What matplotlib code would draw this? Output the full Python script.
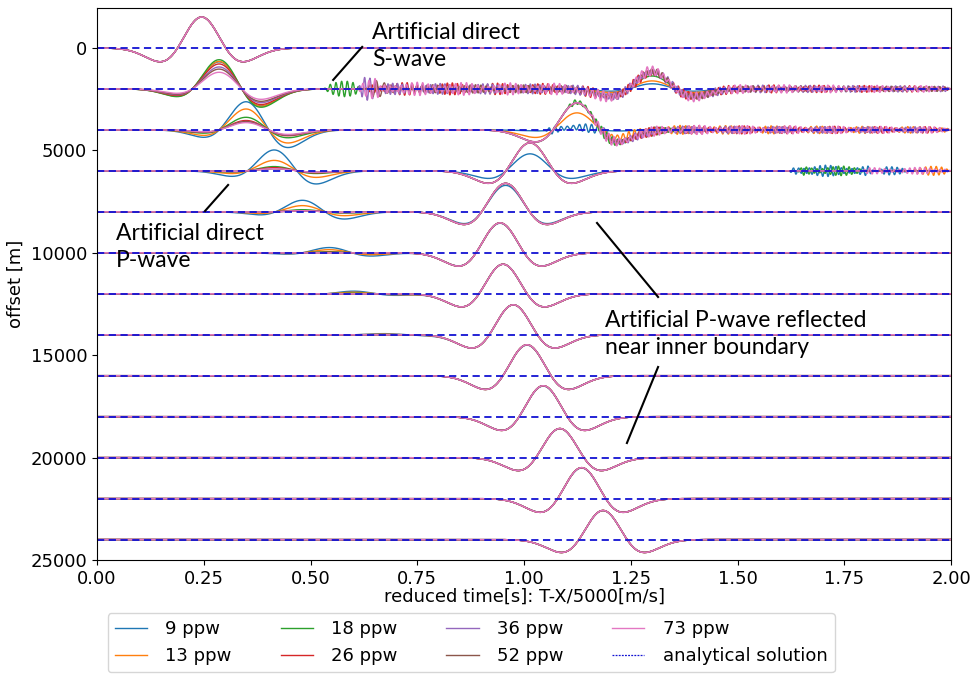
import numpy as np
import matplotlib.pyplot as plt

# receiver offsets [m] and the grid resolutions compared
offsets = [0, 2000, 4000, 6000, 8000, 10000, 12000, 14000, 16000, 18000, 20000, 22000, 24000]
ppw_labels = ["9 ppw", "13 ppw", "18 ppw", "26 ppw", "36 ppw", "52 ppw", "73 ppw"]

# direct P-wave: peak time (reduced) for offsets 0..14000 m
direct_t = [0.245, 0.295, 0.358, 0.424, 0.490, 0.553, 0.610, 0.680]
direct_skew = [0.0, 0.3, 0.3, 0.3, 0.3, 0.3, 0.3, 0.3]
# peak amplitude [m on the offset axis], rows = ppw, cols = offsets 0..14000 m
direct_amp = [
    [1510, 1270, 1320, 980, 540, 245, 120, 50],
    [1510, 1290, 980, 490, 290, 145, 70, 25],
    [1510, 1370, 590, 200, 100, 50, 25, 0],
    [1510, 1170, 440, 150, 50, 25, 0, 0],
    [1510, 1030, 390, 100, 50, 0, 0, 0],
    [1510, 930, 390, 100, 50, 0, 0, 0],
    [1510, 780, 340, 100, 50, 0, 0, 0],
]

# P-wave reflected near the inner boundary, offsets 2000..24000 m
refl_t = [1.300, 1.124, 1.014, 0.957, 0.944, 0.951, 0.975, 1.007, 1.045, 1.084, 1.135, 1.185]
refl_amp = [
    [250, 120, 830, 1290, 1440, 1440, 1460, 1490, 1490, 1410, 1490, 1410],
    [390, 830, 1370, 1390, 1460, 1440, 1460, 1510, 1510, 1420, 1510, 1420],
    [630, 1350, 1370, 1390, 1460, 1440, 1460, 1510, 1510, 1420, 1510, 1420],
    [780, 1320, 1370, 1390, 1460, 1440, 1460, 1510, 1510, 1420, 1510, 1420],
    [830, 1320, 1370, 1390, 1460, 1440, 1460, 1510, 1510, 1420, 1510, 1420],
    [830, 1300, 1370, 1390, 1460, 1440, 1460, 1510, 1510, 1420, 1510, 1420],
    [880, 1320, 1370, 1390, 1460, 1440, 1460, 1510, 1510, 1420, 1510, 1420],
]

# high-frequency numerical noise: (ppw index, offset, t start, t end, amp start, amp end, freq)
noise_bursts = [
    (2, 2000, 0.53, 0.62, 380, 380, 75),
    (5, 2000, 0.63, 0.68, 700, 300, 60),
    (4, 2000, 0.61, 0.67, 650, 400, 80),
    (6, 2000, 0.61, 0.67, 850, 500, 70),
    (3, 2000, 0.63, 2.00, 320, 140, 85),
    (4, 2000, 0.66, 2.00, 280, 140, 90),
    (5, 2000, 0.66, 2.00, 220, 120, 80),
    (6, 2000, 0.66, 2.00, 340, 150, 78),
    (0, 4000, 1.05, 1.20, 220, 200, 70),
    (2, 4000, 1.10, 1.40, 220, 200, 80),
    (1, 4000, 1.18, 2.00, 240, 150, 75),
    (3, 4000, 1.18, 2.00, 230, 150, 85),
    (4, 4000, 1.20, 2.00, 200, 140, 90),
    (6, 4000, 1.15, 2.00, 260, 150, 80),
    (0, 6000, 1.62, 1.82, 300, 250, 80),
    (2, 6000, 1.64, 1.80, 260, 220, 80),
    (0, 6000, 1.83, 1.90, 200, 200, 80),
    (6, 6000, 1.79, 2.00, 150, 180, 85),
    (1, 6000, 1.90, 2.00, 220, 220, 80),
]

freq = 4.0
t = np.arange(0, 2.0005, 0.0005)


def ricker(t, t0, f, skew=0.0):
    s = np.pi * f * (t - t0)
    g = np.exp(-s ** 2)
    # skew adds a derivative-of-gaussian term: shallower first lobe, deeper second
    return (1 - 2 * s ** 2) * g - skew * np.sqrt(2 * np.e) * s * g


def burst(t, t1, t2, a1, a2, f, phase):
    env = np.interp(t, [t1, t2], [a1, a2], left=0, right=0)
    edge = 0.015
    taper = np.clip((t - t1) / edge, 0, 1) * np.clip((t2 - t) / edge, 0, 1)
    carrier = np.sin(2 * np.pi * f * t + phase) * (0.7 + 0.3 * np.sin(2 * np.pi * 9.3 * t + 3 * phase))
    return env * taper * carrier


fig = plt.figure(figsize=(9.72, 6.77), dpi=100)
ax = fig.add_axes([0.0998, 0.1728, 0.8786, 0.8154])

colors = plt.rcParams["axes.prop_cycle"].by_key()["color"]
for i, lab in enumerate(ppw_labels):
    for j, off in enumerate(offsets):
        sig = np.zeros_like(t)
        if j < len(direct_t):
            sig += direct_amp[i][j] * ricker(t, direct_t[j], freq, direct_skew[j])
        if j >= 1:
            sig += refl_amp[i][j - 1] * ricker(t, refl_t[j - 1], freq)
        for k, (si, o, t1, t2, a1, a2, f) in enumerate(noise_bursts):
            if si == i and o == off:
                sig += burst(t, t1, t2, a1, a2, f, 1.7 * k + 0.9 * i)
        ax.plot(t, off - sig, color=colors[i], lw=1.0, label=lab if j == 0 else None)

for j, off in enumerate(offsets):
    ax.plot([0, 2], [off, off], color="#1212d2", lw=1.3, dashes=(4, 2.5),
            label="analytical solution" if j == 0 else None)

ax.set_xlim(0, 2)
ax.set_ylim(25000, -1950)
ax.set_xticks(np.arange(0, 2.01, 0.25))
ax.set_xticklabels([f"{v:.2f}" for v in np.arange(0, 2.01, 0.25)])
ax.set_yticks(np.arange(0, 25001, 5000))
ax.tick_params(labelsize=13)
ax.set_xlabel("reduced time[s]: T-X/5000[m/s]", fontsize=13, labelpad=0)
ax.set_ylabel("offset [m]", fontsize=13)

leg = ax.legend(loc="upper center", bbox_to_anchor=(0.438, -0.096), ncol=4, fontsize=13,
                handlelength=1.8, handletextpad=1.0, columnspacing=2.7,
                borderaxespad=0, labelspacing=0.5)
for h in leg.get_lines()[-1:]:
    h.set_dashes((1.5, 1))
    h.set_linewidth(0.9)

# annotations
tf = dict(family="Lato", fontsize=16.5, linespacing=1.35, va="center", ha="left")
ax.text(0.644, -100, "Artificial direct\nS-wave", **tf)
ax.plot([0.553, 0.621], [1563, -49], color="black", lw=1.5)
ax.text(0.0445, 9717, "Artificial direct\nP-wave", **tf)
ax.plot([0.253, 0.307], [7960, 6690], color="black", lw=1.5)
ax.text(1.19, 13965, "Artificial P-wave reflected\nnear inner boundary", **tf)
ax.plot([1.171, 1.314], [8545, 12159], color="black", lw=1.5)
ax.plot([1.314, 1.241], [15577, 19288], color="black", lw=1.5)

fig.savefig("out.png", dpi=100)
